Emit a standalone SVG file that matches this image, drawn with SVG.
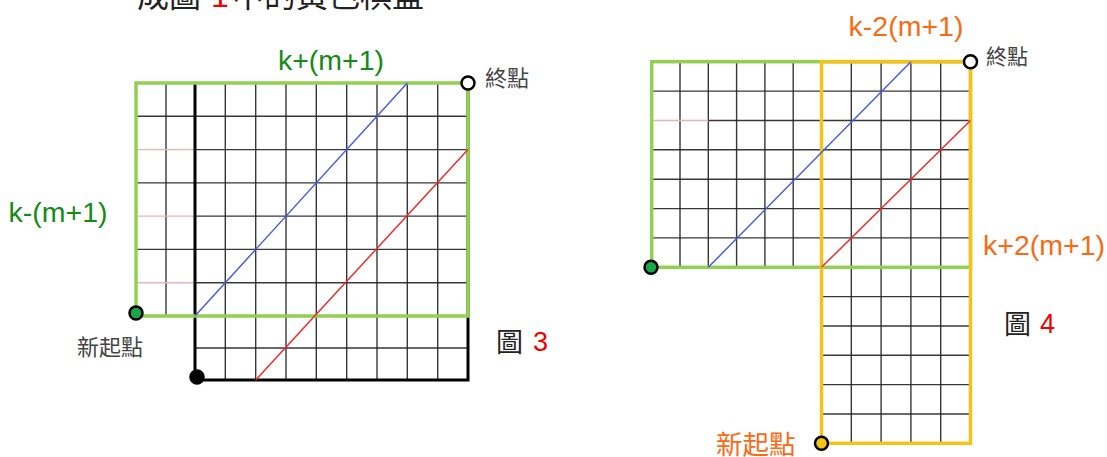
<svg xmlns="http://www.w3.org/2000/svg" width="1107" height="457" viewBox="0 0 1107 457">
<style>
.grid{stroke:#222;stroke-width:1.4;fill:none;opacity:0.9}
.pink{stroke:#e8b4b4;stroke-width:1.4;fill:none}
.bk{stroke:#000;stroke-width:3;fill:none}
.gr{stroke:#92d050;stroke-width:3.5;fill:none}
.yl{stroke:#f5c21a;stroke-width:3.5;fill:none}
.blue{stroke:#4a5ce0;stroke-width:1.5}
.red{stroke:#f02a2a;stroke-width:1.5}
.lbl{font-family:"Liberation Sans",Arial,sans-serif;font-size:28.5px}
.cjk{font-family:"Noto Sans CJK TC","Noto Sans CJK SC",sans-serif;fill:#444}
.g{fill:#148a17}
.o{fill:#f96a12}
.r{fill:#f00000}
.node{stroke:#000;stroke-width:2.5}
</style>
<rect width="1107" height="457" fill="#fff"/>

<g id="caption-top">
<text x="137" y="7" class="cjk" font-size="32" style="fill:#222">成圖</text>
<text x="220" y="7" class="lbl r" text-anchor="middle" style="font-size:32px">1</text>
<text x="232" y="7" class="cjk" font-size="32" style="fill:#222">中的黃色棋盤</text>
</g>

<g id="fig3">
<g id="fig3-grid">
<path class="grid" d="M166 83V316M225.3 83V380M255.7 83V380M286 83V380M316.3 83V380M346.7 83V380M377 83V380M407.3 83V380M437.7 83V380"/>
<path class="grid" d="M195 116.3H468M195 149.6H468M195 182.9H468M195 216.1H468M195 249.4H468M195 282.7H468M195 348H468"/>
<path class="grid" d="M136 116.3H195M136 182.9H195M136 249.4H195"/>
<path class="pink" d="M136 149.6H195M136 216.1H195M136 282.7H195"/>
<path class="bk" d="M195 83V380H468V83"/>
</g>
<rect id="fig3-green" class="gr" x="136" y="83" width="332" height="233"/>
<text class="lbl g" x="331" y="70" text-anchor="middle">k+(m+1)</text>
<text class="lbl g" x="58" y="222" text-anchor="middle">k-(m+1)</text>
<text class="cjk" x="485" y="86" font-size="22">終點</text>
<text class="cjk" x="77" y="355" font-size="22">新起點</text>
<text class="cjk" x="496" y="352" font-size="27" style="fill:#222">圖</text>
<text class="lbl r" x="533" y="351" style="font-size:27px">3</text>
</g>

<g id="fig4">
<g id="fig4-grid">
<path class="grid" d="M680 61.7V267.3M708.3 61.7V267.3M736.6 61.7V267.3M764.9 61.7V267.3M793.2 61.7V267.3M851.3 61.7V443.3M881.1 61.7V443.3M910.9 61.7V443.3M940.7 61.7V443.3"/>
<path class="grid" d="M651.7 91.1H970.5M708.3 120.5H970.5M651.7 149.8H970.5M651.7 179.2H970.5M651.7 208.6H970.5M651.7 237.9H970.5"/>
<path class="pink" d="M651.7 120.5H708.3"/>
<path class="grid" d="M821.5 296.6H970.5M821.5 326H970.5M821.5 355.3H970.5M821.5 384.6H970.5M821.5 414H970.5"/>
</g>
<rect id="fig4-green" class="gr" x="651.7" y="61.7" width="318.8" height="205.6"/>
<rect id="fig4-yellow" class="yl" x="821.5" y="61.7" width="149" height="381.6"/>
<text class="lbl o" x="906" y="36" text-anchor="middle">k-2(m+1)</text>
<text class="lbl o" x="1044" y="255" text-anchor="middle">k+2(m+1)</text>
<text class="cjk" x="986" y="64" font-size="21">終點</text>
<text class="cjk" x="716" y="454" font-size="26.5" style="fill:#f96a12">新起點</text>
<text class="cjk" x="1004" y="334" font-size="27" style="fill:#222">圖</text>
<text class="lbl r" x="1040" y="333" style="font-size:27px">4</text>
</g>

<g id="connectors">
<line class="blue" x1="195" y1="316" x2="407.3" y2="83"/>
<line class="red" x1="255.7" y1="380" x2="468" y2="149.6"/>
<line class="blue" x1="708.3" y1="267.3" x2="910.9" y2="61.7"/>
<line class="red" x1="821.5" y1="267.3" x2="970.5" y2="120.5"/>
</g>

<g id="node-fig3-end"><circle class="node" cx="468" cy="83" r="6.5" fill="#fff"/></g>
<g id="node-fig3-newstart"><circle class="node" cx="136" cy="313" r="6.5" fill="#1aa64b"/></g>
<g id="node-fig3-start"><circle class="node" cx="197" cy="377" r="6.5" fill="#000"/></g>
<g id="node-fig4-end"><circle class="node" cx="970.5" cy="61.7" r="6.5" fill="#fff"/></g>
<g id="node-fig4-green"><circle class="node" cx="651" cy="267.3" r="6.5" fill="#1aa64b"/></g>
<g id="node-fig4-newstart"><circle class="node" cx="821.5" cy="443.3" r="6.5" fill="#f5c21a"/></g>
</svg>
